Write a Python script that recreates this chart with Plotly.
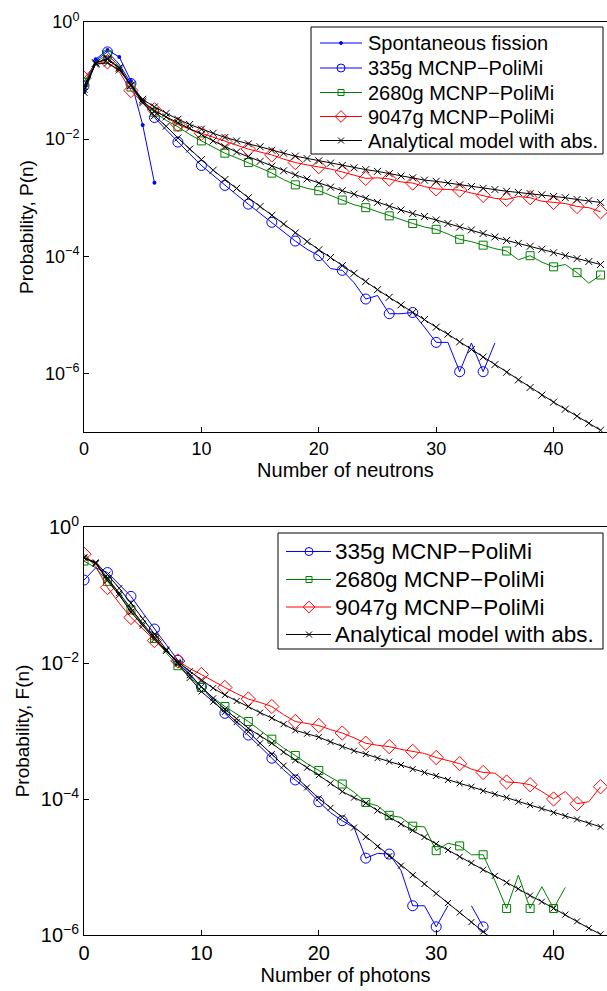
import plotly.graph_objects as go
from plotly.subplots import make_subplots

# values, stored as log10 of the probability
# --- top panel: neutrons ---
fission_x = [0, 1, 2, 3, 4, 5, 6]
fission = [0.063, 0.232, 0.333, 0.253, 0.0986, 0.0175, 0.0018]

neu_335 = [-1.09, -0.66, -0.51, -0.72, -1.05, -1.33, -1.63, -1.84, -2.05, -2.25,
           -2.45, -2.62, -2.79, -2.95, -3.11, -3.27, -3.42, -3.58, -3.74, -3.88,
           -3.99, -4.21, -4.24, -4.45, -4.73, -4.67, -4.98, -4.98, -4.96, -5.21,
           -5.47, -5.47, -5.97, -5.48, -5.97, -5.48]
neu_2680 = [-1.03, -0.68, -0.56, -0.75, -1.11, -1.38, -1.54, -1.68, -1.79, -1.92,
            -2.03, -2.14, -2.24, -2.32, -2.40, -2.49, -2.58, -2.69, -2.78, -2.84,
            -2.88, -2.96, -3.04, -3.12, -3.17, -3.24, -3.31, -3.38, -3.44, -3.50,
            -3.54, -3.62, -3.71, -3.75, -3.81, -3.87, -3.91, -4.06, -3.99, -4.10,
            -4.18, -4.14, -4.28, -4.46, -4.32]
neu_9047 = [-0.96, -0.72, -0.68, -0.85, -1.17, -1.38, -1.50, -1.63, -1.75, -1.83,
            -1.90, -1.97, -2.04, -2.11, -2.17, -2.22, -2.27, -2.34, -2.40, -2.44,
            -2.47, -2.51, -2.56, -2.62, -2.67, -2.66, -2.68, -2.73, -2.75, -2.81,
            -2.85, -2.86, -2.87, -2.92, -2.96, -3.01, -3.03, -2.98, -3.00, -3.06,
            -3.08, -3.10, -3.15, -3.17, -3.24]
neu_model_335 = [-1.20, -0.70, -0.62, -0.78, -1.08, -1.38, -1.60, -1.78, -1.98, -2.17,
                 -2.35, -2.53, -2.69, -2.84, -3.00, -3.15, -3.30, -3.45, -3.60, -3.75,
                 -3.89, -4.02, -4.16, -4.29, -4.43, -4.57, -4.70, -4.83, -4.96, -5.08,
                 -5.21, -5.33, -5.46, -5.59, -5.72, -5.85, -5.98, -6.11, -6.24, -6.37,
                 -6.49, -6.61, -6.73, -6.85, -6.97]
neu_model_2680 = [-1.15, -0.70, -0.64, -0.79, -1.08, -1.35, -1.52, -1.62, -1.72, -1.81,
                  -1.92, -2.03, -2.13, -2.22, -2.30, -2.38, -2.46, -2.54, -2.61, -2.68,
                  -2.75, -2.82, -2.88, -2.94, -3.01, -3.08, -3.15, -3.21, -3.27, -3.32,
                  -3.38, -3.44, -3.50, -3.55, -3.61, -3.67, -3.73, -3.78, -3.83, -3.88,
                  -3.94, -3.99, -4.04, -4.09, -4.14]
neu_model_9047 = [-1.10, -0.72, -0.70, -0.82, -1.08, -1.32, -1.45, -1.56, -1.66, -1.75,
                  -1.83, -1.90, -1.97, -2.03, -2.08, -2.13, -2.19, -2.24, -2.29, -2.33,
                  -2.37, -2.41, -2.45, -2.49, -2.52, -2.55, -2.59, -2.63, -2.66, -2.70,
                  -2.72, -2.75, -2.78, -2.81, -2.84, -2.86, -2.89, -2.91, -2.93, -2.95,
                  -2.98, -3.00, -3.03, -3.05, -3.08]

# --- bottom panel: photons ---
pho_335 = [-0.78, -0.60, -0.67, -0.84, -1.02, -1.26, -1.50, -1.73, -1.96, -2.16,
           -2.35, -2.55, -2.74, -2.90, -3.06, -3.23, -3.40, -3.57, -3.72, -3.86,
           -4.04, -4.20, -4.32, -4.42, -4.87, -4.80, -4.81, -5.05, -5.57, -5.57,
           -5.88, -5.57, None, -5.57, -5.88]
pho_2680 = [-0.50, -0.60, -0.80, -1.00, -1.22, -1.44, -1.64, -1.85, -2.04, -2.21,
            -2.36, -2.51, -2.64, -2.75, -2.86, -2.99, -3.12, -3.25, -3.36, -3.48,
            -3.58, -3.68, -3.78, -3.90, -4.05, -4.10, -4.24, -4.27, -4.40, -4.41,
            -4.76, -4.65, -4.69, -4.82, -4.82, -5.20, -5.61, -5.12, -5.61, -5.29,
            -5.61, -5.30]
pho_9047 = [-0.40, -0.58, -0.89, -1.12, -1.33, -1.50, -1.67, -1.83, -1.97, -2.08,
            -2.17, -2.27, -2.36, -2.45, -2.53, -2.58, -2.64, -2.76, -2.86, -2.89,
            -2.92, -2.98, -3.03, -3.10, -3.18, -3.21, -3.23, -3.27, -3.30, -3.33,
            -3.39, -3.44, -3.48, -3.56, -3.61, -3.62, -3.75, -3.76, -3.79, -3.89,
            -4.00, -3.89, -4.07, -4.04, -3.82]
pho_model_335 = [-0.45, -0.52, -0.70, -0.90, -1.12, -1.35, -1.58, -1.80, -2.01, -2.22,
                 -2.42, -2.57, -2.72, -2.87, -3.01, -3.18, -3.34, -3.51, -3.67, -3.83,
                 -3.99, -4.13, -4.27, -4.42, -4.56, -4.70, -4.84, -4.98, -5.12, -5.25,
                 -5.39, -5.53, -5.67, -5.81, -5.95, -6.09, -6.23]
pho_model_2680 = [-0.45, -0.53, -0.75, -0.97, -1.20, -1.42, -1.62, -1.82, -2.00, -2.18,
                  -2.35, -2.52, -2.68, -2.82, -2.96, -3.07, -3.18, -3.31, -3.43, -3.54,
                  -3.65, -3.77, -3.89, -3.98, -4.06, -4.17, -4.27, -4.37, -4.46, -4.56,
                  -4.66, -4.75, -4.85, -4.94, -5.04, -5.13, -5.23, -5.32, -5.42, -5.51,
                  -5.61, -5.70, -5.80, -5.90, -5.99]
pho_model_9047 = [-0.45, -0.54, -0.78, -1.00, -1.25, -1.45, -1.65, -1.82, -1.98, -2.12,
                  -2.25, -2.37, -2.47, -2.56, -2.64, -2.73, -2.81, -2.90, -2.99, -3.04,
                  -3.09, -3.16, -3.23, -3.29, -3.34, -3.40, -3.45, -3.50, -3.56, -3.61,
                  -3.66, -3.72, -3.77, -3.82, -3.88, -3.93, -3.98, -4.04, -4.09, -4.14,
                  -4.20, -4.25, -4.30, -4.36, -4.41]

legend_top = ["Spontaneous fission", "335g MCNP−PoliMi", "2680g MCNP−PoliMi",
              "9047g MCNP−PoliMi", "Analytical model with abs."]
legend_bottom = legend_top[1:]
y_ticktext = ["10<sup>0</sup>", "10<sup>−2</sup>", "10<sup>−4</sup>", "10<sup>−6</sup>"]

FONT = "Liberation Sans, Arial, sans-serif"
BLUE, GREEN, RED = "rgb(0,0,255)", "rgb(0,128,0)", "rgb(255,0,0)"
W, H = 607, 991
ML, MR, MT, MB = 84, 0, 22, 56

# marker style per series: (color, symbol, size)
STYLE = {
    "fission": (BLUE, "circle", 4),
    "335": (BLUE, "circle-open", 10),
    "2680": (GREEN, "square-open", 8),
    "9047": (RED, "diamond-open", 11),
    "model": ("black", "x-thin-open", 7),
}


def prob(logs):
    return [None if v is None else 10 ** v for v in logs]


def add_mc(fig, row, logs, key):
    color, symbol, size = STYLE[key]
    x = list(range(len(logs)))
    y = prob(logs)
    fig.add_trace(go.Scatter(x=x, y=y, mode="lines", line=dict(color=color, width=1),
                             showlegend=False), row=row, col=1)
    # markers on every second point, as in the original
    fig.add_trace(go.Scatter(x=x[::2], y=y[::2], mode="markers", showlegend=False,
                             marker=dict(symbol=symbol, size=size, color=color,
                                         line=dict(width=1, color=color))), row=row, col=1)


def add_model(fig, row, logs, size):
    fig.add_trace(go.Scatter(x=list(range(len(logs))), y=prob(logs), mode="lines+markers",
                             showlegend=False, line=dict(color="black", width=1),
                             marker=dict(symbol="x-thin-open", size=size, color="black",
                                         line=dict(width=1, color="black"))), row=row, col=1)


fig = make_subplots(rows=2, cols=1)

# top panel
fig.add_trace(go.Scatter(x=fission_x, y=fission, mode="lines+markers", showlegend=False,
                         line=dict(color=BLUE, width=1),
                         marker=dict(symbol="circle", size=4, color=BLUE)), row=1, col=1)
add_mc(fig, 1, neu_335, "335")
add_mc(fig, 1, neu_2680, "2680")
add_mc(fig, 1, neu_9047, "9047")
for logs in (neu_model_335, neu_model_2680, neu_model_9047):
    add_model(fig, 1, logs, 7)

# bottom panel
add_mc(fig, 2, pho_335, "335")
add_mc(fig, 2, pho_2680, "2680")
add_mc(fig, 2, pho_9047, "9047")
for logs in (pho_model_335, pho_model_2680, pho_model_9047):
    add_model(fig, 2, logs, 6)

# ---- legends, drawn on a hidden overlay axis measured in figure pixels ----
fig.update_layout(
    xaxis3=dict(domain=[0, 1], range=[ML, W - MR], visible=False, anchor="y3", fixedrange=True),
    yaxis3=dict(domain=[0, 1], range=[H - MB, MT], visible=False, anchor="x3", fixedrange=True),
)


def draw_legend(box, rows_y, line_x, mark_x, text_x, keys, labels, fsize, msizes):
    x0, y0, x1, y1 = box
    fig.add_shape(type="rect", xref="x3", yref="y3", x0=x0, y0=y0, x1=x1, y1=y1,
                  line=dict(color="black", width=1), fillcolor="white", layer="below")
    for yy, key, label, ms in zip(rows_y, keys, labels, msizes):
        color, symbol, _ = STYLE[key]
        fig.add_trace(go.Scatter(x=list(line_x), y=[yy, yy], mode="lines", xaxis="x3", yaxis="y3",
                                 line=dict(color=color, width=1), showlegend=False,
                                 hoverinfo="skip"))
        fig.add_trace(go.Scatter(x=[mark_x], y=[yy], mode="markers", xaxis="x3", yaxis="y3",
                                 marker=dict(symbol=symbol, size=ms, color=color,
                                             line=dict(width=1, color=color)),
                                 showlegend=False, hoverinfo="skip"))
        fig.add_annotation(x=text_x, y=yy, xref="x3", yref="y3", text=label, showarrow=False,
                           xanchor="left", yanchor="middle", font=dict(size=fsize))


draw_legend((311, 27, 603, 154), [43, 68, 92.5, 116.5, 140.5], (320, 362), 341, 366,
            ["fission", "335", "2680", "9047", "model"], legend_top, 20, [3, 8, 6, 9, 6])
draw_legend((278, 533, 603, 649), [551.5, 579.5, 607, 634.5], (286, 331), 309, 333,
            ["335", "2680", "9047", "model"], legend_bottom, 22.5, [8, 6, 9, 6])

# ---- axes ----
xaxis_style = dict(range=[0, 44.55], tickvals=[0, 10, 20, 30, 40], ticks="inside", ticklen=5,
                   showline=True, mirror=True, linecolor="black", linewidth=1,
                   showgrid=False, zeroline=False, color="black", automargin=False)
fig.update_xaxes(**xaxis_style, row=1, col=1)
fig.update_xaxes(**xaxis_style, row=2, col=1)
fig.update_xaxes(domain=[0, 1], tickfont=dict(size=18), row=1, col=1,
                 title=dict(text="Number of neutrons", font=dict(size=20), standoff=4))
fig.update_xaxes(domain=[0, 1], tickfont=dict(size=20), row=2, col=1,
                 title=dict(text="Number of photons", font=dict(size=20), standoff=4))

yaxis_style = dict(type="log", ticks="inside", ticklen=5, showline=True, mirror=True,
                   linecolor="black", linewidth=1, showgrid=False, zeroline=False,
                   color="black", automargin=False, tickvals=[1, 1e-2, 1e-4, 1e-6],
                   ticktext=y_ticktext)
fig.update_yaxes(**yaxis_style, row=1, col=1)
fig.update_yaxes(**yaxis_style, row=2, col=1)
fig.update_yaxes(domain=[(H - MB - 432) / (H - MT - MB), 1], range=[-7, 0], row=1, col=1,
                 tickfont=dict(size=18),
                 title=dict(text="Probability, P(n)", font=dict(size=19), standoff=6))
fig.update_yaxes(domain=[0, (H - MB - 527) / (H - MT - MB)], range=[-6, 0], row=2, col=1,
                 tickfont=dict(size=20),
                 title=dict(text="Probability, F(n)", font=dict(size=19), standoff=6))

fig.update_layout(
    width=W, height=H,
    margin=dict(l=ML, r=MR, t=MT, b=MB),
    paper_bgcolor="white", plot_bgcolor="rgba(0,0,0,0)",
    font=dict(family=FONT, color="black"),
    showlegend=False,
)

# the page body has a default 8px margin; drop it so the figure sits at the window corner
fig.write_html("out.html", config={"displayModeBar": False},
               post_script="document.body.style.margin='0';")
